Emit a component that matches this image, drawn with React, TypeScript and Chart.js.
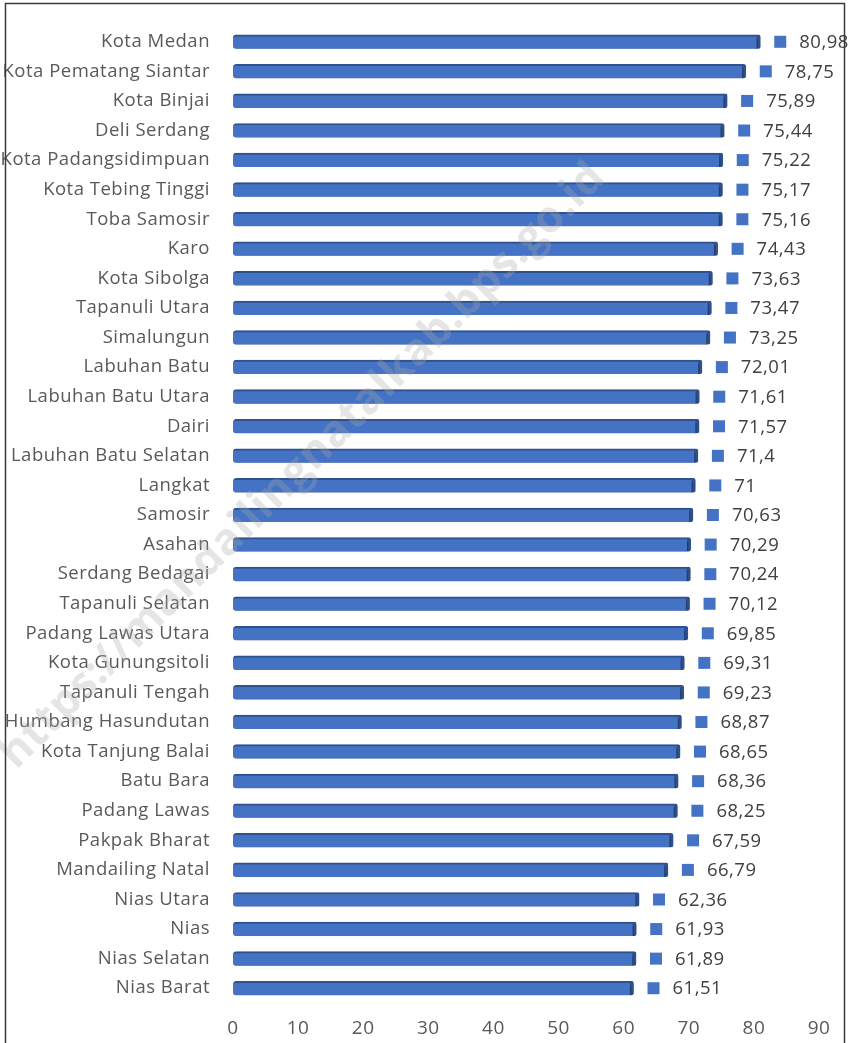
import { useEffect, useRef } from 'react';
import { Chart, registerables } from 'chart.js';

Chart.register(...registerables);

// Kabupaten/Kota in Sumatera Utara, ordered from highest to lowest
const regions = [
  'Kota Medan',
  'Kota Pematang Siantar',
  'Kota Binjai',
  'Deli Serdang',
  'Kota Padangsidimpuan',
  'Kota Tebing Tinggi',
  'Toba Samosir',
  'Karo',
  'Kota Sibolga',
  'Tapanuli Utara',
  'Simalungun',
  'Labuhan Batu',
  'Labuhan Batu Utara',
  'Dairi',
  'Labuhan Batu Selatan',
  'Langkat',
  'Samosir',
  'Asahan',
  'Serdang Bedagai',
  'Tapanuli Selatan',
  'Padang Lawas Utara',
  'Kota Gunungsitoli',
  'Tapanuli Tengah',
  'Humbang Hasundutan',
  'Kota Tanjung Balai',
  'Batu Bara',
  'Padang Lawas',
  'Pakpak Bharat',
  'Mandailing Natal',
  'Nias Utara',
  'Nias',
  'Nias Selatan',
  'Nias Barat',
];

const values = [
  80.98, 78.75, 75.89, 75.44, 75.22, 75.17, 75.16, 74.43, 73.63, 73.47, 73.25,
  72.01, 71.61, 71.57, 71.4, 71, 70.63, 70.29, 70.24, 70.12, 69.85, 69.31,
  69.23, 68.87, 68.65, 68.36, 68.25, 67.59, 66.79, 62.36, 61.93, 61.89, 61.51,
];

const axisMin = 0;
const axisMax = 90;
const axisStep = 10;

const watermarkText = 'https://mandailingnatalkab.bps.go.id';

const BAR_BLUE = '#4472C4';
const BAR_EDGE = '#2F528F';
const LABEL_FONT = "'Open Sans', 'DejaVu Sans', sans-serif";
const LETTER_SPACING = '0.5px';

const formatValue = (v: number) => String(v).replace('.', ',');

// Slightly spaced lettering for every text on the canvas
const spacingPlugin = {
  id: 'letterSpacing',
  beforeLayout(chart: any) {
    chart.ctx.letterSpacing = LETTER_SPACING;
  },
  beforeDraw(chart: any) {
    chart.ctx.letterSpacing = LETTER_SPACING;
  },
};

// Soft drop shadow under the bars for the bevelled look
const barShadowPlugin = {
  id: 'barShadow',
  beforeDatasetsDraw(chart: any) {
    const ctx = chart.ctx;
    ctx.save();
    ctx.shadowColor = 'rgba(0,0,0,0.35)';
    ctx.shadowBlur = 2;
    ctx.shadowOffsetX = 1;
    ctx.shadowOffsetY = 2;
  },
  afterDatasetsDraw(chart: any) {
    chart.ctx.restore();
  },
};

// Legend-key square plus value text at the end of each bar
const valueLabelPlugin = {
  id: 'valueLabels',
  afterDatasetsDraw(chart: any) {
    const ctx = chart.ctx;
    const meta = chart.getDatasetMeta(0);
    const data = chart.data.datasets[0].data as number[];
    ctx.save();
    meta.data.forEach((bar: any, i: number) => {
      const x = bar.x;
      const y = bar.y;
      ctx.fillStyle = BAR_BLUE;
      ctx.fillRect(x + 14, y - 6, 12, 12);
      ctx.fillStyle = '#404040';
      ctx.font = `18.5px ${LABEL_FONT}`;
      ctx.textAlign = 'left';
      ctx.textBaseline = 'middle';
      ctx.fillText(formatValue(data[i]), x + 39, y + 1);
    });
    ctx.restore();
  },
};

// Diagonal site watermark and the outer frame
const overlayPlugin = {
  id: 'overlay',
  afterDraw(chart: any) {
    const ctx = chart.ctx;
    ctx.save();
    ctx.translate(303, 466);
    ctx.rotate(-Math.PI / 4);
    ctx.font = `bold 44px ${LABEL_FONT}`;
    ctx.fillStyle = 'rgba(170,170,170,0.3)';
    ctx.textAlign = 'center';
    ctx.textBaseline = 'middle';
    ctx.fillText(watermarkText, 0, 0);
    ctx.restore();

    ctx.save();
    ctx.strokeStyle = '#3a3a3a';
    ctx.lineWidth = 1.5;
    ctx.strokeRect(5.5, 3.5, 839, 1050);
    ctx.restore();
  },
};

export default function App() {
  const canvasRef = useRef<HTMLCanvasElement | null>(null);

  useEffect(() => {
    if (!canvasRef.current) return;
    const chart = new Chart(canvasRef.current, {
      type: 'bar',
      data: {
        labels: regions,
        datasets: [
          {
            data: values,
            backgroundColor: BAR_BLUE,
            borderColor: BAR_EDGE,
            borderWidth: { top: 2, right: 4, bottom: 0, left: 0 },
            borderSkipped: false,
            borderRadius: { topLeft: 3, bottomLeft: 3, topRight: 2, bottomRight: 2 },
            barThickness: 14,
          },
        ],
      },
      options: {
        indexAxis: 'y',
        responsive: false,
        animation: false,
        events: [],
        layout: { padding: { top: 27, right: 33, bottom: 0, left: 0 } },
        plugins: {
          legend: { display: false },
          tooltip: { enabled: false },
        },
        scales: {
          x: {
            min: axisMin,
            max: axisMax,
            grid: { display: false, drawTicks: false },
            border: { display: false },
            ticks: {
              stepSize: axisStep,
              padding: 14,
              color: '#595959',
              font: { family: LABEL_FONT, size: 19 },
            },
            afterFit(scale: any) {
              scale.height = 40;
            },
          },
          y: {
            grid: { display: false, drawTicks: false },
            border: { display: false },
            ticks: {
              padding: 23,
              autoSkip: false,
              color: '#595959',
              font: { family: LABEL_FONT, size: 18.5 },
            },
            afterFit(scale: any) {
              scale.width = 233;
              scale.paddingTop = 0;
              scale.paddingBottom = 0;
            },
          },
        },
      },
      plugins: [spacingPlugin, barShadowPlugin, valueLabelPlugin, overlayPlugin],
    });
    return () => chart.destroy();
  }, []);

  return (
    <div style={{ position: 'absolute', left: 0, top: 0, width: 852, height: 1043, background: '#fff' }}>
      <canvas ref={canvasRef} width={852} height={1043} style={{ display: 'block' }} />
    </div>
  );
}
